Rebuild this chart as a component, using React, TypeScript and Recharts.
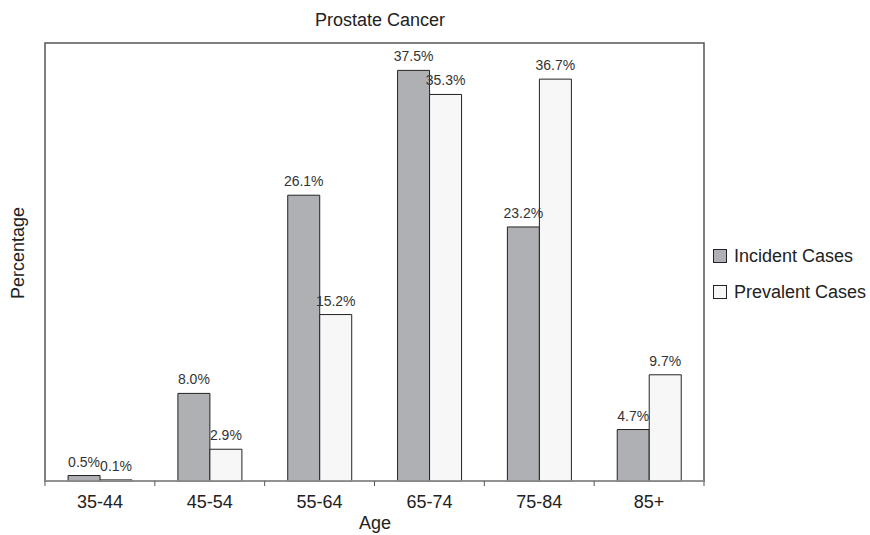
import React from "react";
import { BarChart, Bar, XAxis, YAxis, LabelList, ReferenceArea } from "recharts";

const ageGroups = ["35-44", "45-54", "55-64", "65-74", "75-84", "85+"];
const incidentCases = [0.5, 8.0, 26.1, 37.5, 23.2, 4.7];
const prevalentCases = [0.1, 2.9, 15.2, 35.3, 36.7, 9.7];

const data = ageGroups.map((age, i) => ({
  age,
  incident: incidentCases[i],
  prevalent: prevalentCases[i],
}));

const FONT = "'Liberation Sans', Arial, Helvetica, sans-serif";
const INCIDENT_FILL = "#afb0b4";
const PREVALENT_FILL = "#f7f7f7";
const BAR_STROKE = "#222";

// category labels centred, tick marks on the category boundaries
function AgeTick(props: any) {
  const { x, y, payload, index } = props;
  const half = payload?.offset ?? 54.9;
  const last = index === ageGroups.length - 1;
  return (
    <g>
      <line x1={x - half} x2={x - half} y1={y} y2={y + 5} stroke="#555" />
      {last && <line x1={x + half} x2={x + half} y1={y} y2={y + 5} stroke="#555" />}
      <text
        x={x}
        y={y + 27}
        textAnchor="middle"
        fontSize={18}
        fontFamily={FONT}
        fill="#222"
      >
        {payload.value}
      </text>
    </g>
  );
}

const pct = (v: any) => `${Number(v).toFixed(1)}%`;

export default function App() {
  return (
    <div
      style={{
        position: "absolute",
        left: 0,
        top: 0,
        width: 870,
        height: 535,
        background: "#fff",
        fontFamily: FONT,
        color: "#222",
      }}
    >
      <div
        style={{
          position: "absolute",
          left: 280,
          width: 200,
          top: 10,
          textAlign: "center",
          fontSize: 18,
        }}
      >
        Prostate Cancer
      </div>
      <div
        style={{
          position: "absolute",
          left: 18,
          top: 253,
          fontSize: 18,
          transform: "translate(-50%, -50%) rotate(-90deg)",
          whiteSpace: "nowrap",
        }}
      >
        Percentage
      </div>
      <div
        style={{
          position: "absolute",
          left: 275,
          width: 200,
          top: 513,
          textAlign: "center",
          fontSize: 18,
          lineHeight: "20px",
        }}
      >
        Age
      </div>

      <BarChart
        width={870}
        height={535}
        data={data}
        margin={{ top: 43, right: 166, bottom: 0, left: 45 }}
        barCategoryGap="21%"
        barGap={0}
      >
        <ReferenceArea
          y1={0}
          y2={40}
          fill="none"
          stroke="#555"
          strokeWidth={1.5}
          ifOverflow="visible"
        />
        <XAxis
          dataKey="age"
          height={54}
          axisLine={{ stroke: "#9a9a9a", strokeWidth: 1.5 }}
          tickLine={false}
          tickSize={0}
          tickMargin={0}
          tick={<AgeTick />}
          interval={0}
        />
        <YAxis domain={[0, 40]} width={0} hide />
        <Bar
          dataKey="incident"
          fill={INCIDENT_FILL}
          stroke={BAR_STROKE}
          strokeWidth={1}
          isAnimationActive={false}
        >
          <LabelList
            dataKey="incident"
            position="top"
            offset={9}
            formatter={pct}
            fontSize={14}
            fontFamily={FONT}
            fill="#333"
          />
        </Bar>
        <Bar
          dataKey="prevalent"
          fill={PREVALENT_FILL}
          stroke={BAR_STROKE}
          strokeWidth={1}
          isAnimationActive={false}
        >
          <LabelList
            dataKey="prevalent"
            position="top"
            offset={9}
            formatter={pct}
            fontSize={14}
            fontFamily={FONT}
            fill="#333"
          />
        </Bar>
      </BarChart>

      <div style={{ position: "absolute", left: 713, top: 244, fontSize: 18 }}>
        {[
          { name: "Incident Cases", fill: INCIDENT_FILL },
          { name: "Prevalent Cases", fill: PREVALENT_FILL },
        ].map((item) => (
          <div
            key={item.name}
            style={{ display: "flex", alignItems: "center", height: 24, marginBottom: 12 }}
          >
            <span
              style={{
                display: "inline-block",
                width: 12,
                height: 12,
                background: item.fill,
                border: `1px solid ${BAR_STROKE}`,
                marginRight: 7,
              }}
            />
            <span>{item.name}</span>
          </div>
        ))}
      </div>
    </div>
  );
}
